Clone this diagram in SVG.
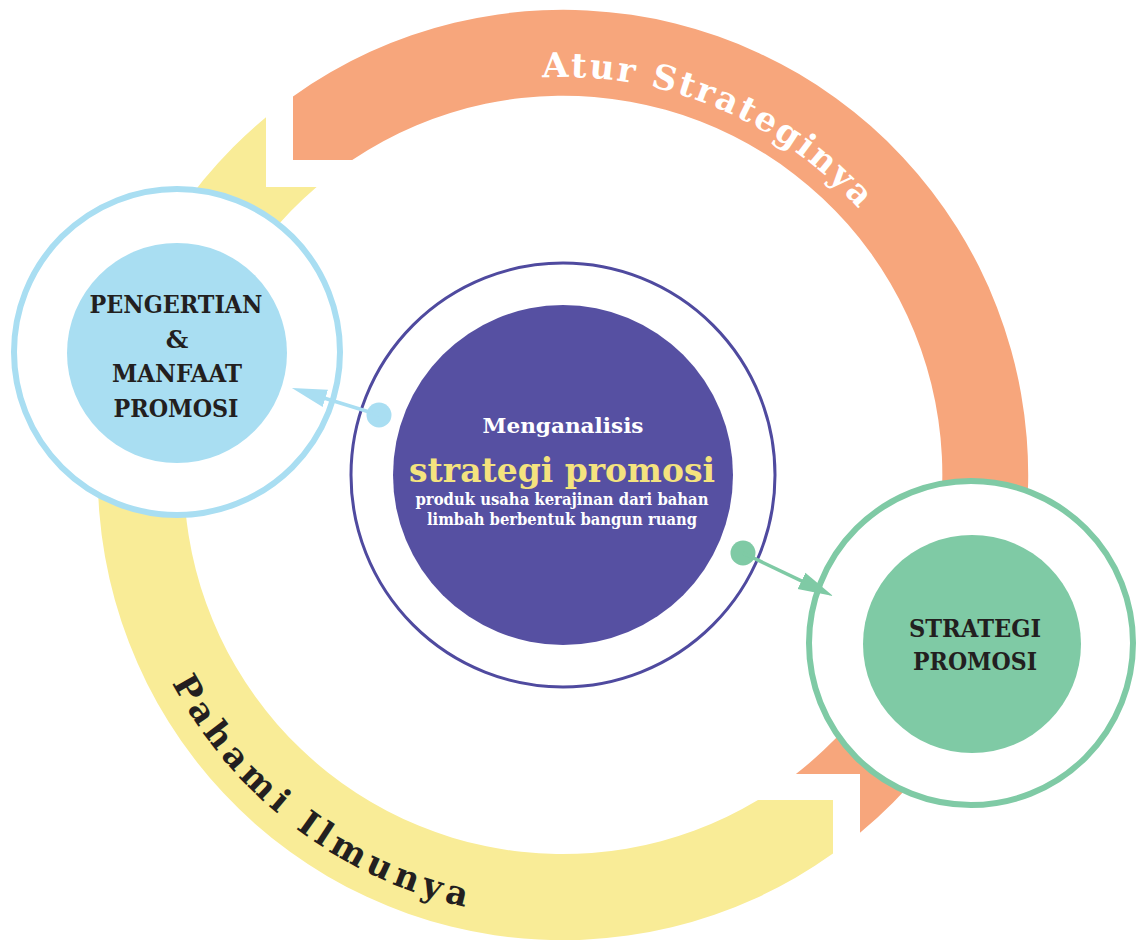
<svg xmlns="http://www.w3.org/2000/svg" width="1139" height="940" viewBox="0 0 1139 940">
  <style>
    .serif { font-family: "DejaVu Serif", "Liberation Serif", serif; font-weight: bold; }
    .node-label { font-size: 25px; fill: #231F20; text-anchor: middle; }
    .arc-label { font-size: 34px; }
    .center-white { fill: #FFFFFF; text-anchor: middle; }
  </style>
  <defs>
    <marker id="arrowBlue" markerUnits="userSpaceOnUse" markerWidth="36" markerHeight="20" viewBox="0 0 36 20" refX="15" refY="10" orient="auto">
      <path d="M0,1 L35,10 L0,19 Z" fill="#A9DEF2"/>
    </marker>
    <marker id="arrowGreen" markerUnits="userSpaceOnUse" markerWidth="36" markerHeight="20" viewBox="0 0 36 20" refX="15" refY="10" orient="auto">
      <path d="M0,1 L35,10 L0,19 Z" fill="#7FCAA5"/>
    </marker>
    <path id="orangeTextPath" d="M542.2,77.5 A398,398 0 0 1 907.7,276"/>
    <path id="yellowTextPath" d="M171.9,683 A443,443 0 0 0 639.9,911.3"/>
  </defs>

  <rect width="1139" height="940" fill="#FFFFFF"/>

  <g id="cycle-arrows">
    <g id="arc-pahami">
      <path d="M266,117.2 L266,187 L316.6,187 A379,379 0 0 0 758,800 L833,800 L833,853.6 A465,465 0 0 1 266,117.2 Z" fill="#F9EC97"/>
      <text class="serif arc-label" fill="#231F20" letter-spacing="5.4"><textPath href="#yellowTextPath">Pahami Ilmunya</textPath></text>
    </g>
    <g id="arc-atur">
      <path d="M293,96.4 A465,465 0 0 1 860,832.8 L860,774 L795.9,774 A379,379 0 0 0 352.2,160 L293,160 Z" fill="#F7A67C"/>
      <text class="serif arc-label" fill="#FFFFFF" letter-spacing="2.5"><textPath href="#orangeTextPath">Atur Strateginya</textPath></text>
    </g>
  </g>

  <g id="node-center">
    <circle cx="563" cy="475" r="212" fill="#FFFFFF" stroke="#4F4A9F" stroke-width="3"/>
    <circle cx="563" cy="475" r="170" fill="#5650A2"/>
    <text class="serif center-white" x="563" y="433" font-size="21" textLength="161" lengthAdjust="spacingAndGlyphs">Menganalisis</text>
    <text class="serif" x="562" y="482" font-size="34" fill="#F4E37E" text-anchor="middle" textLength="306" lengthAdjust="spacingAndGlyphs">strategi promosi</text>
    <text class="serif center-white" x="562" y="505" font-size="16" textLength="293" lengthAdjust="spacingAndGlyphs">produk usaha kerajinan dari bahan</text>
    <text class="serif center-white" x="562" y="525" font-size="16" textLength="270" lengthAdjust="spacingAndGlyphs">limbah berbentuk bangun ruang</text>
  </g>

  <g id="node-pengertian">
    <circle cx="177" cy="352" r="163" fill="#FFFFFF" stroke="#A9DEF2" stroke-width="6"/>
    <circle cx="177" cy="353" r="110" fill="#A9DEF2"/>
    <text class="serif node-label" x="176" y="313" textLength="173" lengthAdjust="spacingAndGlyphs">PENGERTIAN</text>
    <text class="serif node-label" x="177" y="348">&amp;</text>
    <text class="serif node-label" x="177" y="382" textLength="130" lengthAdjust="spacingAndGlyphs">MANFAAT</text>
    <text class="serif node-label" x="176" y="417" textLength="125" lengthAdjust="spacingAndGlyphs">PROMOSI</text>
  </g>

  <g id="node-strategi">
    <circle cx="971" cy="643" r="162" fill="#FFFFFF" stroke="#7FCAA5" stroke-width="6"/>
    <circle cx="972" cy="644" r="109" fill="#7FCAA5"/>
    <text class="serif node-label" x="975" y="637" textLength="132" lengthAdjust="spacingAndGlyphs">STRATEGI</text>
    <text class="serif node-label" x="975" y="670" textLength="124" lengthAdjust="spacingAndGlyphs">PROMOSI</text>
  </g>

  <g id="connectors">
    <circle cx="379" cy="415" r="12.5" fill="#A9DEF2"/>
    <line x1="379" y1="415" x2="311" y2="394" stroke="#A9DEF2" stroke-width="3.5" marker-end="url(#arrowBlue)"/>
    <circle cx="743" cy="553" r="12.5" fill="#7FCAA5"/>
    <line x1="743" y1="553" x2="815" y2="587.4" stroke="#7FCAA5" stroke-width="3.5" marker-end="url(#arrowGreen)"/>
  </g>
</svg>
